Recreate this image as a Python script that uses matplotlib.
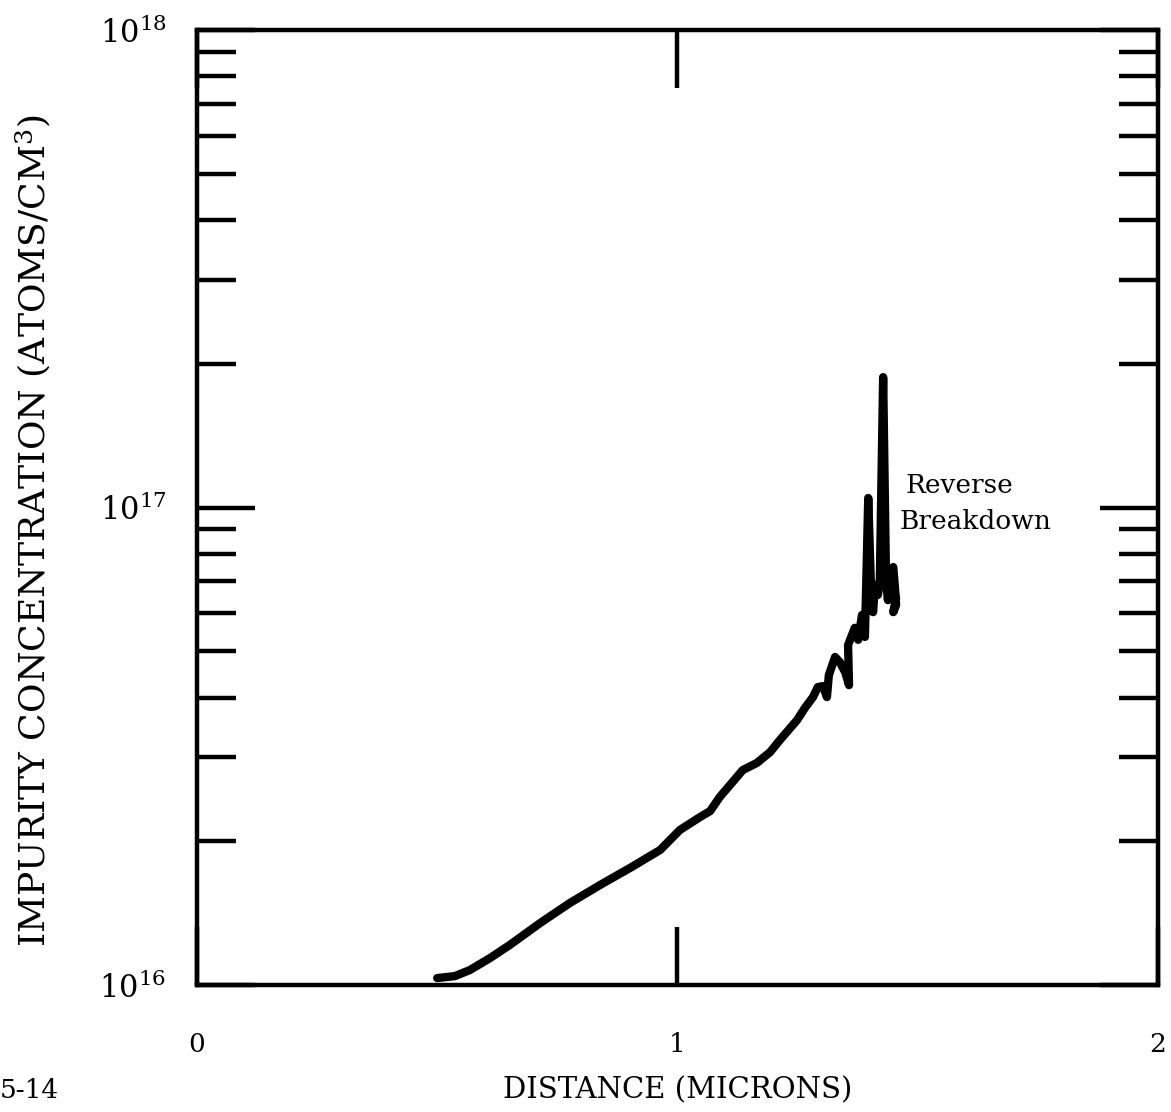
import numpy as np
import matplotlib
matplotlib.use("Agg")
import matplotlib.pyplot as plt
from matplotlib.ticker import FixedLocator, FixedFormatter, LogLocator, NullFormatter

# distance (microns) and impurity concentration (atoms/cm^3)
# (the end of the trace zig-zags back and forth where the junction breaks down)
distance = [0.500, 0.537, 0.568, 0.610, 0.651, 0.714, 0.776, 0.839, 0.901, 0.964,
            1.005, 1.047, 1.068, 1.088, 1.136, 1.165, 1.193, 1.213, 1.249, 1.265,
            1.282, 1.292, 1.303, 1.311, 1.315, 1.328, 1.338, 1.349, 1.357, 1.355,
            1.369, 1.376, 1.384, 1.390, 1.392, 1.397, 1.403, 1.407, 1.411, 1.417,
            1.421, 1.428, 1.434, 1.438, 1.442, 1.449, 1.453, 1.455, 1.449, 1.455]
concentration = [1.034e16, 1.044e16, 1.075e16, 1.139e16, 1.213e16, 1.348e16, 1.485e16,
                 1.620e16, 1.758e16, 1.918e16, 2.112e16, 2.248e16, 2.314e16, 2.476e16,
                 2.820e16, 2.917e16, 3.076e16, 3.258e16, 3.589e16, 3.802e16, 4.009e16,
                 4.207e16, 4.227e16, 4.009e16, 4.457e16, 4.864e16, 4.742e16, 4.519e16,
                 4.246e16, 5.152e16, 5.598e16, 5.284e16, 5.957e16, 5.358e16, 6.397e16,
                 1.047e17, 6.622e16, 6.039e16, 6.887e16, 6.561e16, 6.950e16, 1.875e17,
                 7.047e16, 6.397e16, 7.295e16, 7.503e16, 6.714e16, 6.252e16, 6.039e16,
                 6.457e16]

x_ticks = [0, 1, 2]
x_labels = ["0", "1", "2"]
y_ticks = [1e16, 1e17, 1e18]
y_labels = [r"$10^{16}$", r"$10^{17}$", r"$10^{18}$"]

plt.rcParams["font.family"] = "DejaVu Serif"
plt.rcParams["mathtext.fontset"] = "dejavuserif"

fig = plt.figure(figsize=(11.71, 11.12), dpi=100)
ax = fig.add_axes([0.1682, 0.1142, 0.8207, 0.8588])

ax.plot(distance, concentration, color="black", lw=6,
        solid_capstyle="round", solid_joinstyle="round")

ax.set_yscale("log")
ax.set_xlim(0, 2)
ax.set_ylim(1e16, 1e18)

ax.xaxis.set_major_locator(FixedLocator(x_ticks))
ax.xaxis.set_major_formatter(FixedFormatter(x_labels))
ax.yaxis.set_major_locator(FixedLocator(y_ticks))
ax.yaxis.set_major_formatter(FixedFormatter(y_labels))
ax.yaxis.set_minor_locator(LogLocator(base=10, subs=np.arange(2, 10)))
ax.yaxis.set_minor_formatter(NullFormatter())

for s in ax.spines.values():
    s.set_linewidth(3.2)

ax.tick_params(axis="both", which="both", direction="in", top=True, right=True,
               width=3.2, colors="black")
ax.tick_params(axis="y", which="major", length=42, pad=22, labelsize=22)
ax.tick_params(axis="y", which="minor", length=28)
ax.tick_params(axis="x", which="major", length=42, pad=34, labelsize=19)

ax.set_xlabel("DISTANCE (MICRONS)", fontsize=21, labelpad=14)
ax.set_ylabel("IMPURITY CONCENTRATION (ATOMS/CM$^3$)", fontsize=26)
ax.yaxis.set_label_coords(-0.15, 0.476)

ax.text(1.4755, 1.114e17, "Reverse", fontsize=19, ha="left", va="center")
ax.text(1.463, 9.33e16, "Breakdown", fontsize=19, ha="left", va="center")

fig.text(0.0, 0.008, "5-14", fontsize=19, ha="left", va="bottom")

fig.savefig("out.png", dpi=100)
